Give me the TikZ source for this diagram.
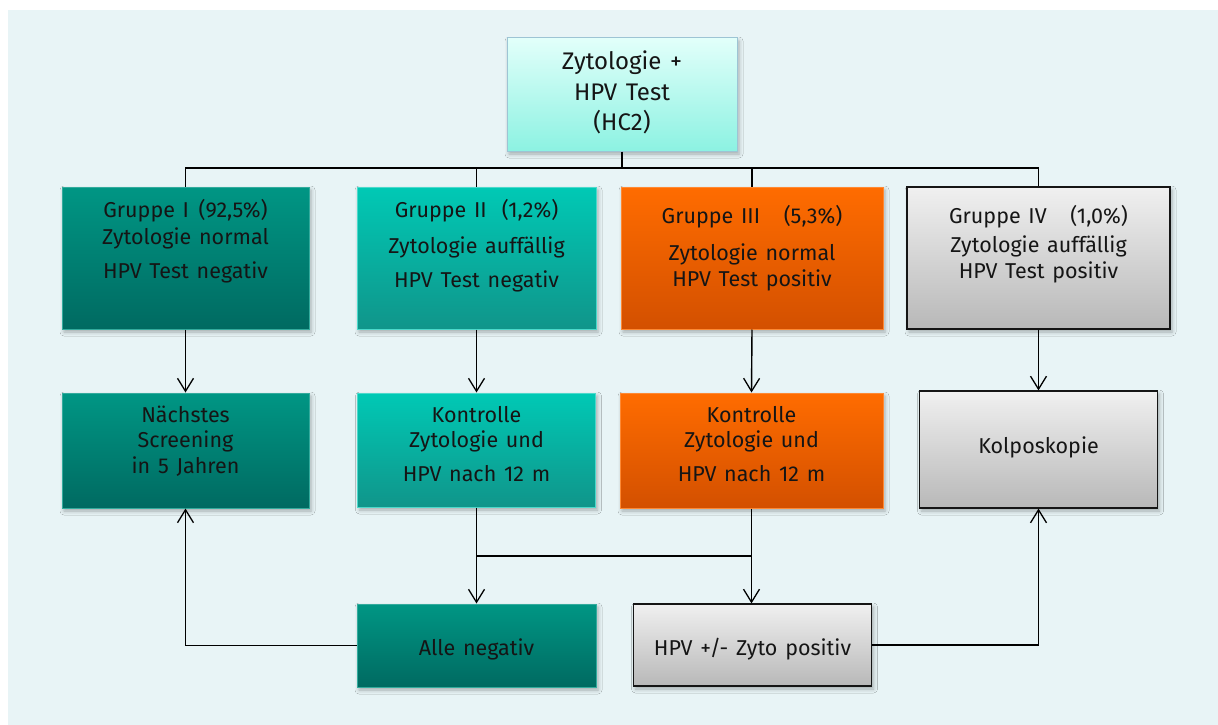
\documentclass[tikz,border=0pt]{standalone}
\usepackage{fontspec}
\setmainfont{Fira Sans}
\usetikzlibrary{arrows.meta,shadows.blur}
\definecolor{panel}{HTML}{E8F4F6}
\definecolor{tealA}{HTML}{009684}
\definecolor{tealB}{HTML}{006A61}
\definecolor{tealC}{HTML}{00C9B5}
\definecolor{tealD}{HTML}{10958A}
\definecolor{orA}{HTML}{FF6C00}
\definecolor{orB}{HTML}{D35000}
\definecolor{grA}{HTML}{F0F0F0}
\definecolor{grB}{HTML}{B8B8B8}
\definecolor{cyA}{HTML}{E2FFFA}
\definecolor{cyB}{HTML}{8CF2E2}
\definecolor{ink}{HTML}{151515}
\begin{document}
\begin{tikzpicture}[x=1pt,y=-1pt,
  shd/.style={blur shadow={shadow xshift=2pt,shadow yshift=-3pt,shadow blur radius=4pt,shadow opacity=30}},
  boxbase/.style={shd,rectangle,inner sep=0pt,line width=1pt},
  topbox/.style={boxbase,draw=cyan!20!teal!45,top color=cyA,bottom color=cyB},
  darkbox/.style={boxbase,draw=tealA!80!white,top color=tealA,bottom color=tealB},
  lightbox/.style={boxbase,draw=tealC!70!white,top color=tealC,bottom color=tealD},
  orbox/.style={boxbase,draw=orA!80!white,top color=orA,bottom color=orB},
  greybox/.style={boxbase,draw=ink,line width=1.2pt,top color=grA,bottom color=grB},
  txt/.style={anchor=base,inner sep=0pt,text=ink,font={\fontsize{21.5}{26}\selectfont\spaceskip=0.36em\relax}},
  bigtxt/.style={txt,font={\fontsize{24}{29}\selectfont\spaceskip=0.36em\relax}},
  conn/.style={line width=1.4pt,draw=black},
  arr/.style={conn,-{Straight Barb[length=13pt,width=16pt,line width=1.3pt]}}
]
\useasboundingbox (0,0) rectangle (1218,725);
\fill[white] (0,0) rectangle (1218,725);
\fill[panel] (8,10) rectangle (1218,725);

% boxes
\node[topbox,minimum width=230pt,minimum height=113pt] (top) at (622,94.5) {};
\node[darkbox,minimum width=247pt,minimum height=142pt] (g1) at (185.5,258) {};
\node[lightbox,minimum width=239pt,minimum height=142pt] (g2) at (476.5,258) {};
\node[orbox,minimum width=262pt,minimum height=142pt] (g3) at (752,258) {};
\node[greybox,minimum width=263pt,minimum height=142pt] (g4) at (1038.5,258) {};
\node[darkbox,minimum width=247pt,minimum height=115pt] (n1) at (185.5,450.5) {};
\node[lightbox,minimum width=238pt,minimum height=114pt] (n2) at (476.5,450) {};
\node[orbox,minimum width=263pt,minimum height=115pt] (n3) at (751.5,450.5) {};
\node[greybox,minimum width=238pt,minimum height=117pt] (n4) at (1038.5,449.5) {};
\node[darkbox,minimum width=239pt,minimum height=83pt] (a) at (476.5,645.5) {};
\node[greybox,minimum width=238pt,minimum height=82pt] (h) at (752.5,645) {};

% texts
\node[bigtxt] (t1) at (622,70) {Zytologie +};
\node[bigtxt] (t2) at (622,100) {HPV Test};
\node[bigtxt] (t3) at (622,130) {(HC2)};

\node[txt] (g1a) at (185.5,217) {Gruppe I\hspace{0.45em}(92,5\%)};
\node[txt] (g1b) at (185.5,244) {Zytologie normal};
\node[txt] (g1c) at (185.5,278) {HPV Test negativ};

\node[txt] (g2a) at (476.5,217) {Gruppe II\hspace{0.7em}(1,2\%)};
\node[txt] (g2b) at (476.5,253) {Zytologie auffällig};
\node[txt] (g2c) at (476.5,287) {HPV Test negativ};

\node[txt] (g3a) at (752,223) {Gruppe III\hspace{1.1em}(5,3\%)};
\node[txt] (g3b) at (752,260) {Zytologie normal};
\node[txt] (g3c) at (752,286) {HPV Test positiv};

\node[txt] (g4a) at (1038.5,223) {Gruppe IV\hspace{1.1em}(1,0\%)};
\node[txt] (g4b) at (1038.5,252) {Zytologie auffällig};
\node[txt] (g4c) at (1038.5,278) {HPV Test positiv};

\node[txt] (n1a) at (185.5,422) {Nächstes};
\node[txt] (n1b) at (185.5,447) {Screening};
\node[txt] (n1c) at (185.5,473) {in 5 Jahren};

\node[txt] (n2a) at (476.5,422) {Kontrolle};
\node[txt] (n2b) at (476.5,447) {Zytologie und};
\node[txt] (n2c) at (476.5,481) {HPV nach 12 m};

\node[txt] (n3a) at (751.5,422) {Kontrolle};
\node[txt] (n3b) at (751.5,447) {Zytologie und};
\node[txt] (n3c) at (751.5,481) {HPV nach 12 m};

\node[txt] (n4a) at (1038.5,453) {Kolposkopie};
\node[txt] (aa) at (476.5,655) {Alle negativ};
\node[txt] (ha) at (752.5,655) {HPV +/- Zyto positiv};

% connectors
\coordinate (bus) at (622,168);
\coordinate (mrg) at (614,556);
\draw[conn] (top.south) -- (bus);
\draw[conn] (g1.north) |- (bus) -| (g4.north);
\draw[conn] (g2.north) -- (g2.north |- bus);
\draw[conn] (g3.north) -- (g3.north |- bus);

\draw[arr] (g1.south) -- (n1.north);
\draw[arr] (g2.south) -- (n2.north);
\draw[arr] (g3.south) -- (n3.north);
\draw[arr] (g4.south) -- (n4.north);

\draw[conn] (n2.south) -- (n2.south |- mrg) -- (n3.south |- mrg);
\draw[conn] (n3.south) -- (n3.south |- mrg);
\draw[arr] (n2.south |- mrg) -- (a.north);
\draw[arr] (n3.south |- mrg) -- (n3.south |- h.north);

\draw[arr] (a.west) -| (n1.south);
\draw[arr] (h.east) -| (n4.south);
\end{tikzpicture}
\end{document}
